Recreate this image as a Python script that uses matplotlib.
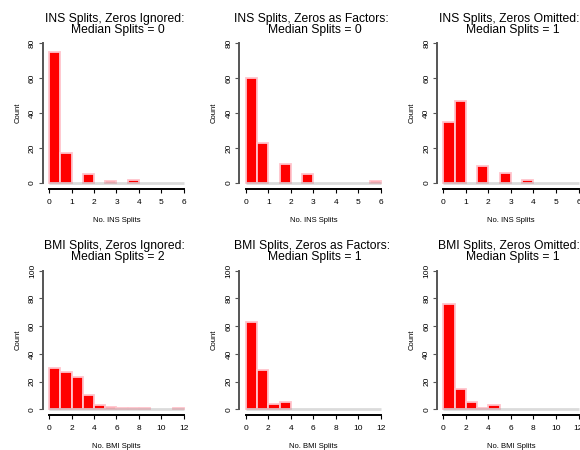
import numpy as np
import matplotlib
matplotlib.use('Agg')
import matplotlib.pyplot as plt

plt.rcParams['font.family'] = ['Liberation Sans', 'DejaVu Sans']

# histogram breaks (R style, right-closed bins)
ins_breaks = [0, 0.5, 1, 1.5, 2, 2.5, 3, 3.5, 4, 4.5, 5, 5.5, 6]
bmi_breaks = [0, 1, 2, 3, 4, 5, 6, 7, 8, 9, 10, 11, 12]

# counts per bin
ins_ignored = [75, 17, 0, 5, 0, 1, 0, 2, 0, 0, 0, 0]
ins_factors = [60, 23, 0, 11, 0, 5, 0, 0, 0, 0, 0, 1]
ins_omitted = [35, 47, 0, 10, 0, 6, 0, 2, 0, 0, 0, 0]
bmi_ignored = [30, 27, 23, 10, 3, 2, 1, 1, 1, 0, 0, 1]
bmi_factors = [63, 28, 4, 5, 0, 0, 0, 0, 0, 0, 0, 0]
bmi_omitted = [76, 15, 5, 1, 3, 0, 0, 0, 0, 0, 0, 0]

titles = [
    ("INS Splits, Zeros Ignored:", "Median Splits = 0"),
    ("INS Splits, Zeros as Factors:", "Median Splits = 0"),
    ("INS Splits, Zeros Omitted:", "Median Splits = 1"),
    ("BMI Splits, Zeros Ignored:", "Median Splits = 2"),
    ("BMI Splits, Zeros as Factors:", "Median Splits = 1"),
    ("BMI Splits, Zeros Omitted:", "Median Splits = 1"),
]
counts = [ins_ignored, ins_factors, ins_omitted, bmi_ignored, bmi_factors, bmi_omitted]

W, H = 580, 450
fig = plt.figure(figsize=(W / 100, H / 100), dpi=100)

# plot regions in pixels: (x of 0, x of max, y of 0, y of ymax)
col_x = [(49, 184), (245.7, 381), (443.3, 578.5)]
row_y = [(183, 43), (409.3, 270.7)]

for i in range(6):
    r, c = divmod(i, 3)
    x0, x1 = col_x[c]
    yb, yt = row_y[r]
    ax = fig.add_axes([x0 / W, (H - yb) / H, (x1 - x0) / W, (yb - yt) / H])
    ax.patch.set_alpha(0)

    if r == 0:
        breaks = ins_breaks
        xlabel = 'No. INS Splits'
        ymax = 80
        xticks = range(0, 7)
    else:
        breaks = bmi_breaks
        xlabel = 'No. BMI Splits'
        ymax = 100
        xticks = range(0, 13, 2)

    edges = np.array(breaks)
    ec = ['#ffc4cc' if v > 0 else 'none' for v in counts[i]]
    ax.bar(edges[:-1], counts[i], width=np.diff(edges), align='edge',
           color='red', edgecolor=ec, linewidth=1.3, clip_on=False, zorder=2)
    ax.plot([edges[0], edges[-1]], [0, 0], color='#999999', alpha=0.35,
            linewidth=2.0, solid_capstyle='butt', clip_on=False, zorder=3)

    ax.set_xlim(edges[0], edges[-1])
    ax.set_ylim(0, ymax)
    ax.set_xticks(list(xticks))
    ax.set_yticks(range(0, ymax + 1, 20))

    for s in ['top', 'right']:
        ax.spines[s].set_visible(False)
    ax.spines['left'].set_position(('outward', 4.6))
    ax.spines['left'].set_bounds(0, ymax)
    ax.spines['left'].set_color('#555555')
    ax.spines['left'].set_linewidth(1.4)
    ax.spines['bottom'].set_position(('outward', 4.4))
    ax.spines['bottom'].set_bounds(edges[0], edges[-1])
    ax.spines['bottom'].set_linewidth(1.4)

    ax.tick_params(axis='x', length=3, width=0.8, labelsize=6, pad=4.2)
    ax.tick_params(axis='y', length=3, width=0.8, labelsize=6, pad=1.8,
                   labelrotation=90, color='#555555')
    for lab in ax.get_yticklabels():
        lab.set_va('center')

    ax.set_xlabel(xlabel, fontsize=5.5, labelpad=7.6)
    ax.set_ylabel('Count', fontsize=5.5, labelpad=5.6)

    line1, line2 = titles[i]
    ax.annotate(line1, xy=(0.5, 1), xycoords='axes fraction', xytext=(-1.2, 15.3),
                textcoords='offset points', ha='center', va='baseline', fontsize=8.7)
    ax.annotate(line2, xy=(0.5, 1), xycoords='axes fraction', xytext=(1.2, 7.4),
                textcoords='offset points', ha='center', va='baseline', fontsize=8.7)

fig.savefig('out.png', dpi=100)
